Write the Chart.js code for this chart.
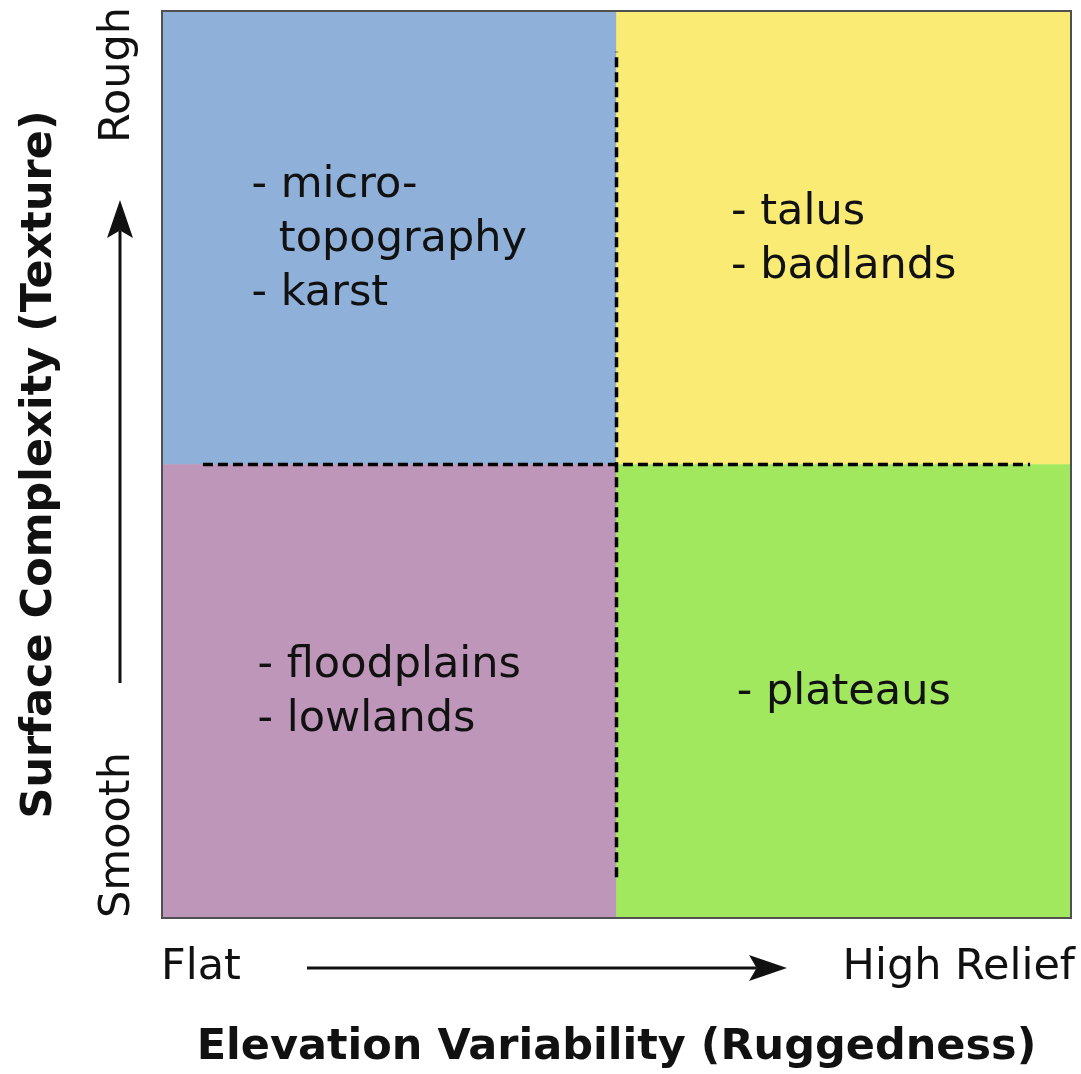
<!DOCTYPE html>
<html>
<head>
<meta charset="utf-8">
<script src="https://cdn.jsdelivr.net/npm/chart.js@4.4.1/dist/chart.umd.min.js"></script>
<style>
    html, body { margin: 0; padding: 0; background: #ffffff; }
    canvas { display: block; }
</style>
</head>
<body>
<canvas id="cuadrantes" width="1081" height="1074"></canvas>
<script>
"use strict";

const elevationLabels = ["Flat", "High Relief"];
const textureLabels = ["Smooth", "Rough"];
const smoothValues = [1, 1];
const roughValues = [1, 1];
const smoothTerms = [["- floodplains", "- lowlands"], ["- plateaus"]];
const roughTerms = [["- micro-", "  topography", "- karst"], ["- talus", "- badlands"]];
const verticalDivider = [{ x: 1, y: 0.09 }, { x: 1, y: 1.91 }];
const horizontalDivider = [{ x: 0.09, y: 1 }, { x: 1.91, y: 1 }];

const FONT = "'DejaVu Sans', 'Liberation Sans', sans-serif";
const INK = "#111111";

document.addEventListener("DOMContentLoaded", () => {
    const canvas = document.querySelector("#cuadrantes");

    // texto de cada cuadrante, centrado sobre su barra
    const quadrantText = {
        id: "quadrantText",
        afterDatasetsDraw(chart) {
            const ctx = chart.ctx;
            const groups = [smoothTerms, roughTerms];
            ctx.save();
            ctx.font = "43px " + FONT;
            ctx.fillStyle = INK;
            ctx.textAlign = "left";
            ctx.textBaseline = "middle";
            groups.forEach((terms, datasetIndex) => {
                const meta = chart.getDatasetMeta(datasetIndex);
                meta.data.forEach((bar, i) => {
                    const lines = terms[i];
                    const cx = bar.x;
                    const cy = (bar.y + bar.base) / 2;
                    const step = 54;
                    const widest = Math.max(...lines.map((t) => ctx.measureText(t).width));
                    const left = cx - widest / 2;
                    const top = cy - (step * (lines.length - 1)) / 2 + 2;
                    lines.forEach((t, k) => ctx.fillText(t, left, top + k * step));
                });
            });
            ctx.restore();
        },
    };

    function arrow(ctx, x1, y1, x2, y2) {
        const ang = Math.atan2(y2 - y1, x2 - x1);
        const head = 38;
        const half = 13;
        ctx.beginPath();
        ctx.moveTo(x1, y1);
        ctx.lineTo(x2 - Math.cos(ang) * head * 0.8, y2 - Math.sin(ang) * head * 0.8);
        ctx.stroke();
        ctx.beginPath();
        ctx.moveTo(x2, y2);
        ctx.lineTo(x2 - Math.cos(ang) * head - Math.sin(ang) * half, y2 - Math.sin(ang) * head + Math.cos(ang) * half);
        ctx.lineTo(x2 - Math.cos(ang) * head * 0.8, y2 - Math.sin(ang) * head * 0.8);
        ctx.lineTo(x2 - Math.cos(ang) * head + Math.sin(ang) * half, y2 - Math.sin(ang) * head - Math.cos(ang) * half);
        ctx.closePath();
        ctx.fill();
    }

    // marco, extremos de los ejes y flechas
    const axisDecor = {
        id: "axisDecor",
        afterDraw(chart) {
            const ctx = chart.ctx;
            const { left, right, top, bottom } = chart.chartArea;
            ctx.save();
            ctx.strokeStyle = "#505050";
            ctx.lineWidth = 2;
            ctx.strokeRect(left, top, right - left, bottom - top);

            ctx.fillStyle = INK;
            ctx.strokeStyle = INK;
            ctx.font = "43px " + FONT;
            ctx.textBaseline = "middle";
            const rowY = bottom + 50;
            ctx.textAlign = "left";
            ctx.fillText(elevationLabels[0], left - 1, rowY);
            ctx.textAlign = "right";
            ctx.fillText(elevationLabels[1], right + 4, rowY);

            ctx.lineWidth = 3;
            arrow(ctx, left + 145, rowY, left + 625, rowY);

            const colX = left - 44;
            ctx.save();
            ctx.translate(colX, 0);
            ctx.rotate(-Math.PI / 2);
            ctx.textAlign = "left";
            ctx.fillText(textureLabels[0], -bottom, 0);
            ctx.textAlign = "right";
            ctx.fillText(textureLabels[1], -(top - 4), 0);
            ctx.restore();

            arrow(ctx, colX + 2, bottom - 235, colX + 2, top + 189);
            ctx.restore();
        },
    };

    const dashed = {
        type: "line",
        xAxisID: "x2",
        yAxisID: "y2",
        borderColor: "#000000",
        borderWidth: 3.5,
        borderDash: [10, 5],
        pointRadius: 0,
        tension: 0,
        fill: false,
        order: 1,
    };

    const quadrant = {
        borderWidth: 0,
        barPercentage: 1,
        categoryPercentage: 1,
        grouped: false,
        stack: "cuadrantes",
        order: 2,
    };

    new Chart(canvas, {
        type: "bar",
        data: {
            labels: elevationLabels,
            datasets: [
                Object.assign({ label: textureLabels[0], data: smoothValues, backgroundColor: ["#be96b9", "#a2e85e"] }, quadrant),
                Object.assign({ label: textureLabels[1], data: roughValues, backgroundColor: ["#8fb0d8", "#faeb75"] }, quadrant),
                Object.assign({ label: "divider-x", data: verticalDivider }, dashed),
                Object.assign({ label: "divider-y", data: horizontalDivider }, dashed),
            ],
        },
        options: {
            responsive: false,
            animation: false,
            layout: { padding: { top: 11, right: 10, left: 0, bottom: 0 } },
            plugins: {
                legend: { display: false },
                tooltip: { enabled: false },
            },
            scales: {
                x: {
                    stacked: true,
                    grid: { display: false, drawTicks: false },
                    border: { display: false },
                    ticks: { display: false },
                    title: {
                        display: true,
                        text: "Elevation Variability (Ruggedness)",
                        color: INK,
                        font: { family: FONT, size: 43, weight: "bold" },
                        padding: { top: 104.4, bottom: 0 },
                    },
                },
                y: {
                    stacked: true,
                    min: 0,
                    max: 2,
                    grid: { display: false, drawTicks: false },
                    border: { display: false },
                    ticks: { display: false },
                    title: {
                        display: true,
                        text: "Surface Complexity (Texture)",
                        color: INK,
                        font: { family: FONT, size: 43, weight: "bold" },
                        padding: { top: 14.2, bottom: 96.2 },
                    },
                },
                x2: { type: "linear", min: 0, max: 2, offset: false, display: false },
                y2: { type: "linear", min: 0, max: 2, offset: false, display: false },
            },
        },
        plugins: [quadrantText, axisDecor],
    });
});
</script>
</body>
</html>
